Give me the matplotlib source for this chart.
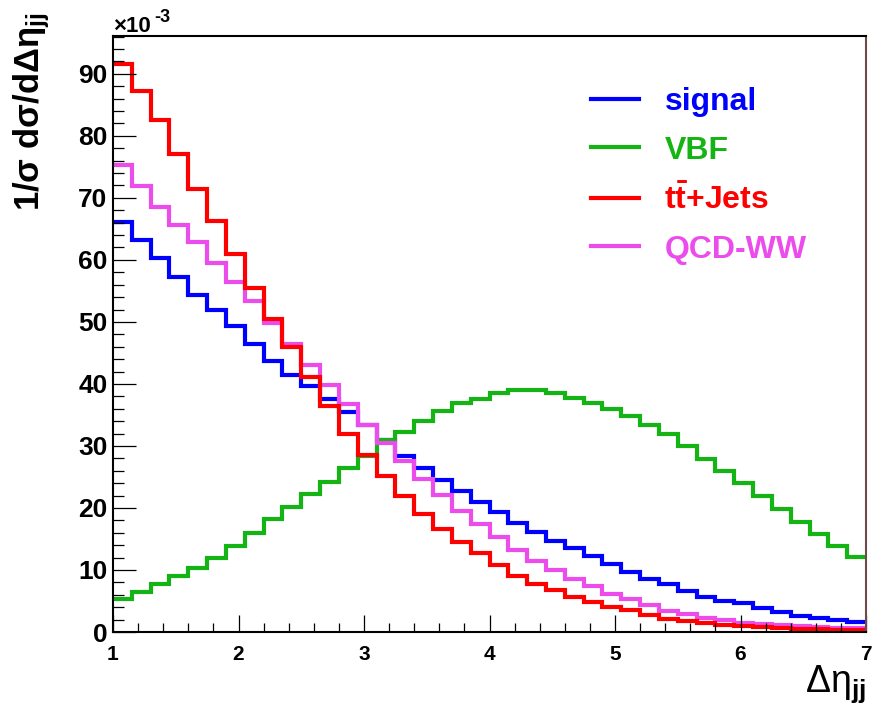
import numpy as np
import matplotlib.pyplot as plt
from matplotlib.ticker import MultipleLocator

plt.rcParams['font.family'] = ['Liberation Sans', 'DejaVu Sans']
plt.rcParams['mathtext.fontset'] = 'custom'
plt.rcParams['mathtext.rm'] = 'Liberation Sans'
plt.rcParams['mathtext.bf'] = 'Liberation Sans:bold'
plt.rcParams['mathtext.default'] = 'regular'

# bin edges in delta eta_jj (40 bins from 1 to 7)
edges = np.linspace(1, 7, 41)

# values in units of 1e-3
signal = [66.1, 63.2, 60.3, 57.3, 54.4, 52.0, 49.3, 46.5, 43.7, 41.5,
          39.7, 37.5, 35.4, 33.4, 30.9, 28.4, 26.4, 24.5, 22.7, 21.0,
          19.3, 17.5, 16.1, 14.6, 13.6, 12.3, 11.0, 9.6, 8.5, 7.8,
          6.6, 5.7, 5.0, 4.6, 3.9, 3.2, 2.6, 2.3, 1.9, 1.6]
vbf = [5.4, 6.5, 7.7, 9.0, 10.4, 12.0, 13.9, 15.9, 18.2, 20.1,
       22.2, 24.2, 26.4, 28.4, 30.9, 32.3, 34.0, 35.7, 36.9, 37.6,
       38.6, 39.1, 39.0, 38.5, 37.8, 37.0, 35.9, 34.8, 33.3, 31.9,
       30.0, 27.9, 26.0, 24.0, 21.9, 19.9, 17.8, 15.8, 13.9, 12.1]
ttjets = [91.6, 87.3, 82.5, 77.0, 71.5, 66.2, 61.0, 55.5, 50.4, 45.9,
          41.1, 36.4, 32.0, 28.6, 25.2, 22.0, 19.1, 16.6, 14.5, 12.8,
          10.8, 9.1, 7.7, 6.8, 5.6, 4.8, 4.1, 3.5, 2.7, 2.1,
          1.8, 1.5, 1.1, 0.9, 0.75, 0.6, 0.5, 0.45, 0.4, 0.3]
qcdww = [75.3, 71.9, 68.5, 65.6, 62.9, 59.5, 56.5, 53.4, 49.9, 46.4,
         43.0, 39.9, 36.7, 33.4, 30.4, 27.5, 24.6, 22.1, 19.5, 17.4,
         15.3, 13.3, 11.4, 10.0, 8.6, 7.4, 6.1, 5.3, 4.3, 3.4,
         2.9, 2.3, 1.9, 1.5, 1.3, 1.1, 1.0, 0.8, 0.7, 0.6]

labels = ['signal', 'VBF', r't$\bar{\mathbf{t}}$+Jets', 'QCD-WW']
colors = ['#0000ff', '#14b414', '#ff0000', '#ec4cec']

fig = plt.figure(figsize=(8.75, 7.1), dpi=100)
ax = fig.add_axes([113/875, 1-632/710, (866-113)/875, (632-36)/710])

h_sig = ax.stairs(signal, edges, baseline=None, color=colors[0], lw=3, label=labels[0])
h_vbf = ax.stairs(vbf, edges, baseline=None, color=colors[1], lw=3, label=labels[1])
h_qcd = ax.stairs(qcdww, edges, baseline=None, color=colors[3], lw=3, label=labels[3])
h_tt = ax.stairs(ttjets, edges, baseline=None, color=colors[2], lw=3, label=labels[2])

ax.set_xlim(1, 7)
ax.set_ylim(0, 96.1)

ax.xaxis.set_major_locator(MultipleLocator(1))
ax.xaxis.set_minor_locator(MultipleLocator(0.2))
ax.yaxis.set_major_locator(MultipleLocator(10))
ax.yaxis.set_minor_locator(MultipleLocator(2))
ax.tick_params(axis='x', which='major', direction='in', length=12, width=0.9, pad=9, labelsize=15)
ax.tick_params(axis='x', which='minor', direction='in', length=6.5, width=0.9)
ax.tick_params(axis='y', which='major', direction='in', length=16.5, width=0.9, pad=4, labelsize=19)
ax.tick_params(axis='y', which='minor', direction='in', length=8, width=0.9)
for lab in ax.get_xticklabels() + ax.get_yticklabels():
    lab.set_fontweight('bold')

for s in ['left', 'bottom', 'top']:
    ax.spines[s].set_linewidth(1.5)
ax.spines['right'].set_color('#6e4b4b')
ax.spines['right'].set_linewidth(1.5)

leg = ax.legend(handles=[h_sig, h_vbf, h_tt, h_qcd], frameon=False,
                loc='upper left', bbox_to_anchor=(591/875, 1-87/710),
                bbox_transform=fig.transFigure, borderpad=0, borderaxespad=0,
                prop={'weight': 'bold', 'size': 23}, handlelength=1.5,
                handletextpad=0.8, labelspacing=0.58)
for t, c in zip(leg.get_texts(), colors):
    t.set_color(c)

fig.text(113/875, 1-32/710, '×10', fontsize=16, fontweight='bold',
         ha='left', va='baseline')
fig.text(154/875, 1-22/710, '-3', fontsize=13, fontweight='bold',
         ha='left', va='baseline')
fig.text(32/875, 1-12/710, r'1/$\sigma$ d$\sigma$/d$\Delta\eta_{\mathbf{jj}}$',
         rotation=90, fontsize=25, fontweight='bold', ha='center', va='top')
fig.text(866/875, 1-684/710, r'$\Delta\eta_{\mathbf{jj}}$', fontsize=27,
         ha='right', va='center')

plt.savefig('out.png', dpi=100)
